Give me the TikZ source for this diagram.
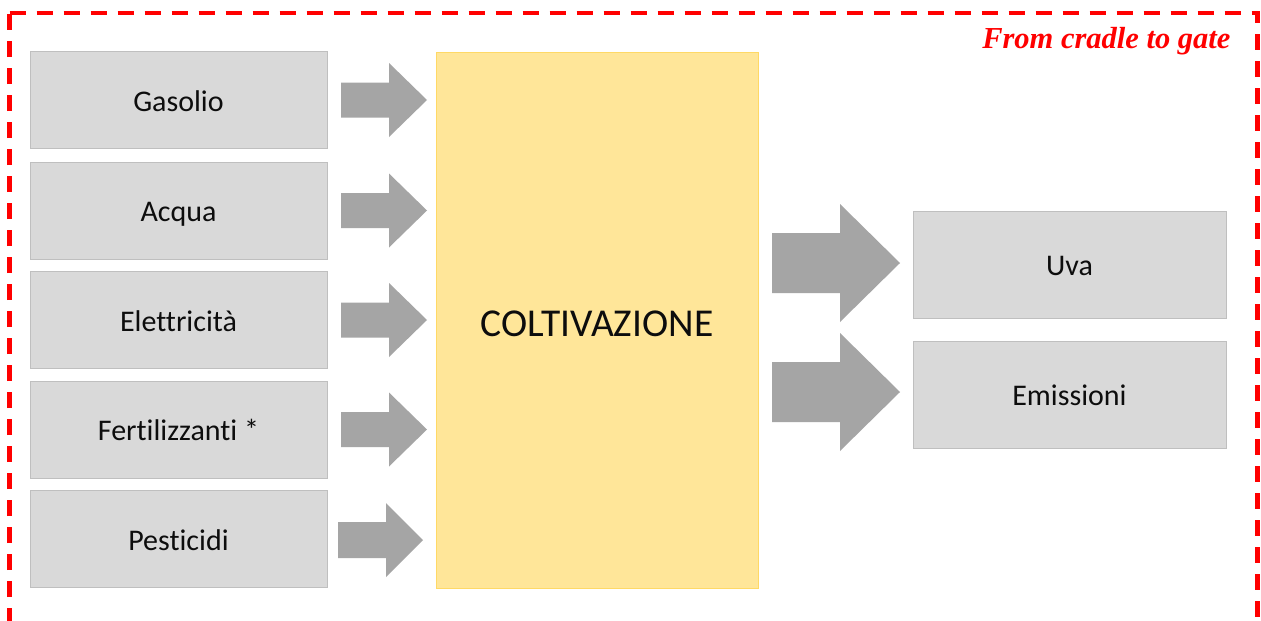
\documentclass[tikz,border=0pt]{standalone}
\usepackage{fontspec}
\setmainfont[Ligatures=NoCommon]{Carlito}
\newfontfamily\titlefont{Liberation Serif}
\definecolor{boxgrey}{HTML}{D9D9D9}
\definecolor{boxedge}{HTML}{BFBFBF}
\definecolor{arrowgrey}{HTML}{A5A5A5}
\definecolor{procfill}{HTML}{FFE699}
\definecolor{procedge}{HTML}{FFD966}
\definecolor{inkblack}{HTML}{0D0D0D}
% block arrow: tail x, head-base x, tip x, centre y, shaft half-height, head half-height
\newcommand\blockarrow[6]{%
  \fill[arrowgrey] (#1,#4-#5) -- (#2,#4-#5) -- (#2,#4-#6) -- (#3,#4)
    -- (#2,#4+#6) -- (#2,#4+#5) -- (#1,#4+#5) -- cycle;}
\begin{document}
\begin{tikzpicture}[x=1pt,y=-1pt,
  flowbox/.style={draw=boxedge,line width=1pt,fill=boxgrey,text=inkblack,
    font=\fontsize{30}{36}\selectfont,inner sep=0pt,text height=22pt,text depth=0pt},
  inbox/.style={flowbox,minimum width=297pt,minimum height=97pt},
  outbox/.style={flowbox,minimum width=313pt,minimum height=107pt},
  process/.style={draw=procedge,line width=1pt,fill=procfill,text=inkblack,
    font=\fontsize{39.5}{44}\selectfont,minimum width=322pt,minimum height=536pt,
    inner sep=0pt,text height=32pt,text depth=0pt},
  boundary/.style={draw=red,line width=4.5pt,dash pattern=on 16pt off 11pt}]
\useasboundingbox[fill=white] (0,0) rectangle (1261,621);

% system boundary
\draw[boundary] (9.5,13) -- (1257.5,13) -- (1257.5,623) -- (9.5,623) -- cycle;
\node[anchor=base east,text=red,font=\titlefont\fontsize{30.5}{34}\selectfont\bfseries\itshape]
  (title) at (1234,48) {From cradle to gate};

% inputs
\node[inbox] (gasolio)  at (178.5,100)   {Gasolio};
\node[inbox] (acqua)    at (178.5,210.5) {Acqua};
\node[inbox] (elettr)   at (178.5,320)   {Elettricità};
\node[inbox] (fertil)   at (178.5,429.5) {Fertilizzanti *};
\node[inbox] (pestic)   at (178.5,539)   {Pesticidi};

% cultivation phase
\node[process] (coltiv) at (597,320) {COLTIVAZIONE};

% outputs
\node[outbox] (uva)      at (1069.5,264.5) {Uva};
\node[outbox] (emission) at (1069.5,394.5) {Emissioni};

% flow arrows into the process
\blockarrow{341}{389}{427}{100}{17.5}{37}
\blockarrow{341}{389}{427}{210.5}{17.5}{37}
\blockarrow{341}{389}{427}{320}{17.5}{37}
\blockarrow{341}{389}{427}{429.5}{17.5}{37}
\blockarrow{338}{386}{423}{540}{18}{37}

% flow arrows out of the process
\blockarrow{772}{840}{900}{263}{30}{59}
\blockarrow{772}{840}{900}{392}{30}{59}
\end{tikzpicture}
\end{document}
